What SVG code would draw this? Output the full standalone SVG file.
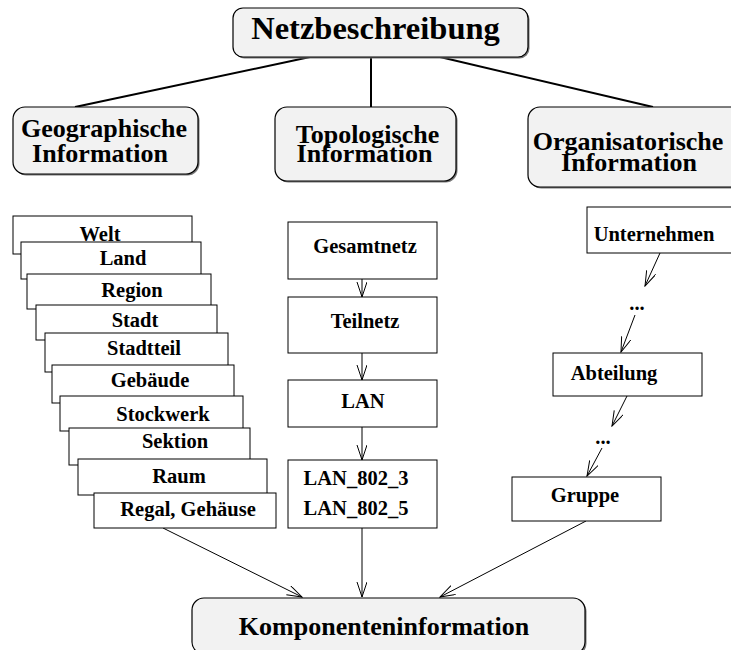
<svg xmlns="http://www.w3.org/2000/svg" width="731" height="650" viewBox="0 0 731 650">
<style>
.rb{fill:#f2f2f2;stroke:#000;stroke-width:1.2}
.sh{fill:#777;stroke:none}
.bx{fill:#fff;stroke:#000;stroke-width:1}
.big{font-family:"Liberation Serif","Times New Roman",serif;font-weight:bold;font-size:26px;fill:#000;text-anchor:middle}
.sm{font-family:"Liberation Serif","Times New Roman",serif;font-weight:bold;font-size:20.5px;fill:#000;text-anchor:middle}
.tl{stroke:#000;stroke-width:2;fill:none}
.ar{stroke:#000;stroke-width:1;fill:none;marker-end:url(#arr)}
</style>
<defs>
<marker id="arr" markerWidth="16" markerHeight="12" refX="15" refY="5" orient="auto" markerUnits="userSpaceOnUse">
<path d="M0,0 L15,5 L0,10" fill="none" stroke="#000" stroke-width="1"/>
</marker>
</defs>
<rect width="731" height="650" fill="#fff"/>
<g id="connectors">
<line class="tl" x1="310" y1="57" x2="75" y2="107"/>
<line class="tl" x1="371" y1="57" x2="371" y2="107"/>
<line class="tl" x1="440" y1="57" x2="653" y2="107"/>
<line class="ar" x1="362" y1="279" x2="362" y2="297"/>
<line class="ar" x1="362" y1="353" x2="362" y2="380"/>
<line class="ar" x1="362" y1="427" x2="362" y2="460"/>
<line class="ar" x1="660" y1="253" x2="645" y2="286"/>
<line class="ar" x1="635" y1="315" x2="621" y2="352"/>
<line class="ar" x1="627" y1="396" x2="612" y2="426"/>
<line class="ar" x1="602" y1="448" x2="587" y2="476"/>
<line class="ar" x1="163" y1="528" x2="302" y2="597"/>
<line class="ar" x1="362" y1="528" x2="362" y2="597"/>
<line class="ar" x1="586" y1="521" x2="440" y2="597"/>
</g>
<g id="netzbeschreibung">
<rect class="sh" x="234.5" y="9.5" width="295" height="49" rx="10"/>
<rect class="rb" x="233" y="8" width="295" height="49" rx="10"/>
<text x="375.5" y="39" style="font-family:'Liberation Serif','Times New Roman',serif;font-weight:bold;font-size:32.5px;text-anchor:middle">Netzbeschreibung</text>
</g>
<g id="geographische">
<rect class="sh" x="14.5" y="108.5" width="185" height="67" rx="12"/>
<rect class="rb" x="13" y="107" width="185" height="67" rx="12"/>
<text class="big" x="104" y="137">Geographische</text>
<text class="big" x="100" y="162">Information</text>
</g>
<g id="topologische">
<rect class="sh" x="276.5" y="108.5" width="181" height="74" rx="12"/>
<rect class="rb" x="275" y="107" width="181" height="74" rx="12"/>
<text class="big" x="367.5" y="143">Topologische</text>
<text class="big" x="364.5" y="162">Information</text>
</g>
<g id="organisatorische">
<rect class="sh" x="529.5" y="108.5" width="215" height="80" rx="12"/>
<rect class="rb" x="528" y="107" width="215" height="80" rx="12"/>
<text class="big" x="628" y="150">Organisatorische</text>
<text class="big" x="629" y="171">Information</text>
</g>
<g id="welt"><rect class="bx" x="13" y="216" width="179" height="38"/><text class="sm" x="100" y="241">Welt</text></g>
<g id="land"><rect class="bx" x="21" y="242" width="180" height="37"/><text class="sm" x="123" y="265">Land</text></g>
<g id="region"><rect class="bx" x="27" y="274" width="184" height="35"/><text class="sm" x="132" y="297">Region</text></g>
<g id="stadt"><rect class="bx" x="36" y="305" width="181" height="35"/><text class="sm" x="135" y="327">Stadt</text></g>
<g id="stadtteil"><rect class="bx" x="45" y="333" width="183" height="39"/><text class="sm" x="144" y="355">Stadtteil</text></g>
<g id="gebaeude"><rect class="bx" x="52" y="365" width="182" height="38"/><text class="sm" x="150" y="387">Gebäude</text></g>
<g id="stockwerk"><rect class="bx" x="60" y="396" width="183" height="35"/><text class="sm" x="163" y="421">Stockwerk</text></g>
<g id="sektion"><rect class="bx" x="69" y="428" width="181" height="37"/><text class="sm" x="175" y="448">Sektion</text></g>
<g id="raum"><rect class="bx" x="78" y="459" width="189" height="36"/><text class="sm" x="179" y="483">Raum</text></g>
<g id="regal"><rect class="bx" x="94" y="493" width="182" height="35"/><text class="sm" x="188" y="516">Regal, Gehäuse</text></g>
<g id="gesamtnetz"><rect class="bx" x="288" y="222" width="149" height="57"/><text class="sm" x="365" y="253">Gesamtnetz</text></g>
<g id="teilnetz"><rect class="bx" x="288" y="297" width="149" height="56"/><text class="sm" x="365" y="328">Teilnetz</text></g>
<g id="lan"><rect class="bx" x="288" y="380" width="149" height="47"/><text class="sm" x="363" y="408">LAN</text></g>
<g id="lan802"><rect class="bx" x="288" y="460" width="149" height="68"/>
<text class="sm" x="356" y="485">LAN_802_3</text>
<text class="sm" x="356" y="515">LAN_802_5</text></g>
<g id="unternehmen"><rect class="bx" x="587" y="207" width="150" height="46"/><text class="sm" x="654" y="241">Unternehmen</text></g>
<g id="dots1"><text class="sm" x="637" y="310">...</text></g>
<g id="abteilung"><rect class="bx" x="553" y="353" width="149" height="43"/><text class="sm" x="614" y="380">Abteilung</text></g>
<g id="dots2"><text class="sm" x="603" y="444">...</text></g>
<g id="gruppe"><rect class="bx" x="512" y="477" width="149" height="44"/><text class="sm" x="585" y="502">Gruppe</text></g>
<g id="komponenten">
<rect class="sh" x="193.5" y="599.5" width="393" height="56" rx="12"/>
<rect class="rb" x="192" y="598" width="393" height="56" rx="12"/>
<text class="big" x="384" y="635">Komponenteninformation</text>
</g>
</svg>
